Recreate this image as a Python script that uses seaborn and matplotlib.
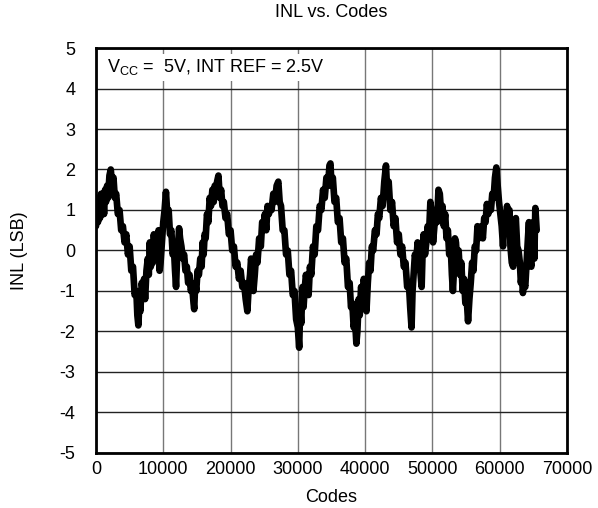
import matplotlib
matplotlib.use("Agg")
import matplotlib.pyplot as plt
import seaborn as sns
import pandas as pd

codes = [0, 150, 300, 450, 600, 750, 900, 1050, 1200, 1350, 1500, 1650, 1800, 2000, 2200, 2400, 2600, 2800, 3000, 3250,
         3500, 3750, 4000, 4250, 4500, 4750, 5000, 5250, 5500, 5750, 6000, 6150, 6300, 6450, 6600, 6800, 7000, 7150, 7300, 7500,
         7700, 7850, 8000, 8150, 8300, 8450, 8600, 8800, 9000, 9150, 9300, 9450, 9600, 9800, 10000, 10200, 10400, 10600, 10800, 11000,
         11200, 11400, 11600, 11750, 11900, 12050, 12200, 12350, 12500, 12700, 12900, 13100, 13300, 13500, 13700, 13900, 14100, 14300, 14500, 14600,
         14750, 14900, 15100, 15300, 15500, 15700, 15850, 16000, 16150, 16300, 16500, 16700, 16900, 17100, 17300, 17500, 17650, 17800, 18000, 18200,
         18400, 18600, 18800, 19000, 19250, 19500, 19750, 20000, 20250, 20500, 20750, 21000, 21250, 21500, 21750, 22000, 22250, 22500, 22700, 22900,
         23050, 23200, 23400, 23600, 23800, 24000, 24250, 24500, 24700, 24900, 25100, 25300, 25500, 25700, 25900, 26100, 26350, 26600, 26850, 27100,
         27300, 27500, 27750, 28000, 28250, 28500, 28750, 29000, 29250, 29500, 29750, 30000, 30200, 30350, 30500, 30700, 30850, 31000, 31200, 31400,
         31600, 31800, 32000, 32250, 32500, 32750, 33000, 33250, 33500, 33750, 34000, 34250, 34500, 34700, 34850, 35000, 35200, 35450, 35700, 35950,
         36200, 36450, 36700, 36950, 37200, 37450, 37700, 37900, 38100, 38300, 38500, 38700, 38850, 39050, 39200, 39400, 39600, 39800, 40000, 40200,
         40400, 40600, 40800, 41000, 41200, 41450, 41700, 41900, 42100, 42350, 42600, 42850, 43100, 43300, 43500, 43750, 44000, 44250, 44500, 44750,
         45000, 45250, 45500, 45750, 46000, 46250, 46500, 46700, 46900, 47050, 47200, 47400, 47600, 47800, 48000, 48200, 48400, 48550, 48700, 48900,
         49100, 49300, 49500, 49700, 49900, 50100, 50300, 50500, 50700, 50900, 51100, 51300, 51500, 51700, 51900, 52100, 52300, 52500, 52700, 52900,
         53050, 53200, 53350, 53500, 53700, 53900, 54100, 54300, 54500, 54700, 54900, 55100, 55300, 55500, 55700, 55900, 56100, 56300, 56500, 56700,
         56900, 57100, 57300, 57500, 57700, 57900, 58100, 58300, 58500, 58700, 58900, 59100, 59300, 59500, 59700, 59900, 60100, 60300, 60500, 60700,
         60900, 61100, 61300, 61450, 61600, 61800, 62000, 62200, 62400, 62600, 62800, 63000, 63150, 63300, 63450, 63600, 63800, 64000, 64200, 64350,
         64500, 64700, 64850, 65000, 65150, 65300, 65500]

inl = [0.6, 1.1, 0.7, 1.3, 0.8, 1.4, 1.0, 1.35, 0.9, 1.5, 1.2, 1.6, 1.3, 1.85, 2.0, 1.6, 1.8, 1.3, 1.4, 0.9,
       1.0, 0.5, 0.6, 0.2, 0.4, -0.1, 0.1, -0.5, -0.4, -1.1, -1.0, -1.6, -1.85, -1.3, -1.5, -0.8, -1.0, -0.7, -1.2, -0.5,
       -0.2, -0.6, 0.2, -0.4, 0.1, -0.3, 0.4, -0.1, 0.3, -0.2, 0.5, -0.5, -0.3, 0.2, 0.7, 1.0, 1.45, 0.9, 1.0, 0.4,
       0.5, -0.1, 0.0, -0.5, -0.9, -0.2, 0.1, 0.55, 0.3, 0.1, -0.2, -0.1, -0.5, -0.4, -0.8, -0.6, -1.0, -0.9, -1.3, -1.45,
       -0.8, -1.0, -0.5, -0.6, -0.2, -0.4, 0.2, -0.1, 0.4, 0.3, 0.9, 0.7, 1.3, 1.1, 1.5, 1.2, 1.6, 1.4, 1.7, 1.85,
       1.3, 1.5, 1.1, 1.2, 0.8, 0.9, 0.4, 0.5, 0.0, 0.1, -0.4, -0.3, -0.7, -0.5, -0.9, -0.8, -1.2, -1.5, -0.9, -0.6,
       -0.2, -0.4, -1.0, -0.6, -0.1, -0.3, 0.3, 0.1, 0.7, 0.6, 0.9, 0.5, 1.1, 0.9, 1.1, 1.0, 1.4, 1.2, 1.6, 1.7,
       1.2, 1.1, 0.5, 0.5, -0.1, 0.0, -0.6, -0.5, -1.1, -1.0, -1.7, -1.9, -2.4, -1.4, -1.8, -0.9, -1.4, -1.0, -0.6, -0.8,
       -1.1, -0.4, -0.6, 0.1, -0.1, 0.6, 0.5, 1.1, 1.0, 1.5, 1.3, 1.8, 1.6, 2.1, 2.15, 1.6, 1.8, 1.2, 1.3, 0.7,
       0.8, 0.2, 0.3, -0.3, -0.2, -0.9, -0.8, -1.4, -1.3, -1.9, -1.7, -2.3, -2.0, -1.2, -1.6, -0.9, -1.1, -0.7, -0.9, -1.5,
       -0.8, -0.3, -0.5, 0.1, 0.0, 0.5, 0.4, 0.9, 0.8, 1.3, 1.1, 1.7, 2.1, 1.4, 1.7, 1.0, 1.2, 0.6, 0.8, 0.2,
       0.4, -0.1, 0.1, -0.4, -0.3, -0.9, -0.8, -1.4, -1.9, -1.0, -0.6, -0.1, -0.3, 0.2, -0.2, -0.5, -0.9, 0.0, 0.4, -0.1,
       0.2, 0.6, 0.4, 1.2, 0.9, 0.2, 0.6, 1.0, 0.7, 1.5, 1.4, 0.9, 1.1, 0.6, 0.9, 0.3, 0.5, -0.1, 0.2, -0.6,
       -1.0, -0.5, 0.3, 0.2, -0.3, 0.0, -0.6, -0.3, -1.0, -0.7, -1.3, -1.2, -1.75, -1.2, -0.8, -0.3, -0.5, 0.1, 0.0, 0.6,
       0.3, 0.5, 0.6, 0.3, 0.8, 0.7, 1.15, 0.9, 1.1, 1.0, 1.4, 1.3, 1.8, 2.05, 1.6, 1.2, 0.9, 0.6, 0.1, 0.8,
       0.6, 1.1, 0.5, 1.0, 0.1, -0.3, -0.4, 0.4, 0.8, 0.1, 0.0, -0.3, -0.8, -0.6, -1.05, -0.8, -0.9, -0.3, 0.3, 0.7,
       -0.2, -0.4, 0.1, 0.7, -0.2, 1.05, 0.5]

x_ticks = [0, 10000, 20000, 30000, 40000, 50000, 60000, 70000]
y_ticks = [-5, -4, -3, -2, -1, 0, 1, 2, 3, 4, 5]

df = pd.DataFrame({"Codes": codes, "INL": inl})

sns.set_theme(style="white")
plt.rcParams["font.family"] = ["Liberation Sans", "DejaVu Sans"]

FS = 13

fig = plt.figure(figsize=(5.98, 5.08), dpi=100)
ax = fig.add_axes([0.1605, 0.1083, 0.7876, 0.7972])

sns.lineplot(data=df, x="Codes", y="INL", ax=ax, color="black", linewidth=4.8,
             sort=False, estimator=None, zorder=3)

ax.set_xlim(0, 70000)
ax.set_ylim(-5, 5)
ax.set_xticks(x_ticks)
ax.set_yticks(y_ticks)
ax.set_xticklabels([str(v) for v in x_ticks], fontsize=FS)
ax.set_yticklabels([str(v) for v in y_ticks], fontsize=FS)
ax.tick_params(axis="both", length=0, colors="black")
ax.tick_params(axis="y", pad=15)
ax.tick_params(axis="x", pad=6)

ax.grid(True, which="major", axis="y", color="#222222", linewidth=1.0)
ax.grid(True, which="major", axis="x", color="#777777", linewidth=1.0)
ax.set_axisbelow(True)
for s in ax.spines.values():
    s.set_color("black")
    s.set_linewidth(2.0)
    s.set_visible(True)

ax.set_xlabel("Codes", fontsize=FS, color="black")
ax.xaxis.set_label_coords(0.5, -0.088)
ax.set_ylabel("INL (LSB)", fontsize=FS, color="black")
ax.yaxis.set_label_coords(-0.145, 0.5)
ax.set_title("INL vs. Codes", fontsize=FS, pad=22, color="black")

ax.text(1700, 4.52, r"V$_{\mathregular{CC}}$ =  5V, INT REF = 2.5V", fontsize=FS,
        ha="left", va="center", zorder=4, color="black",
        bbox=dict(facecolor="white", edgecolor="none", pad=2.5))

fig.savefig("out.png", dpi=100)
